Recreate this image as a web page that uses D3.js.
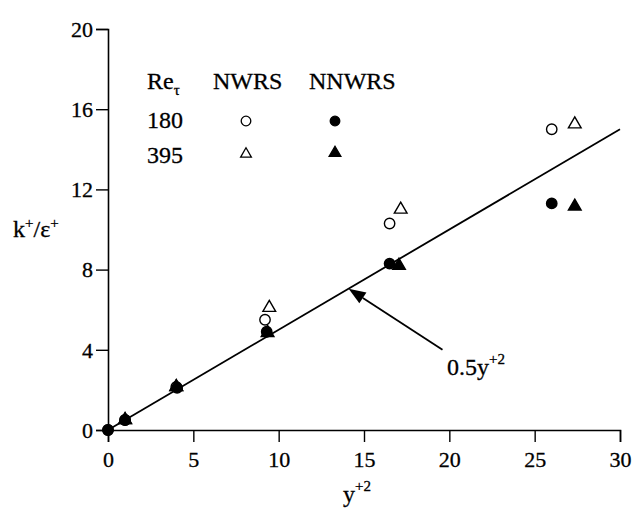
<!DOCTYPE html>
<html>
<head>
<meta charset="utf-8">
<script src="https://cdn.jsdelivr.net/npm/d3@7"></script>
<style>
  html, body { margin: 0; padding: 0; background: #fff; }
  svg { display: block; }
</style>
</head>
<body>
<svg id="chart" width="641" height="512"></svg>
<script>
// k+/eps+ versus y+^2 near the wall
const xMajorTicks = [0, 5, 10, 15, 20, 25, 30];
const yMajorTicks = [0, 4, 8, 12, 16, 20];

// [y+^2, k+/eps+] pairs for each model and Re_tau
const nwrs180  = [[0, 0], [1, 0.5], [4, 2.15], [9.2, 5.5], [16.5, 10.3], [26.0, 15.0]];
const nwrs395  = [[1, 0.5], [4, 2.15], [9.45, 6.1], [17.15, 11.0], [27.35, 15.25]];
const nnwrs180 = [[0, 0], [1, 0.5], [4.05, 2.1], [9.3, 4.9], [16.5, 8.3], [26.0, 11.3]];
const nnwrs395 = [[1, 0.5], [4.0, 2.15], [9.35, 4.85], [17.05, 8.2], [27.35, 11.15]];

// reference asymptote k+/eps+ = 0.5 y+^2
const asymptoteSlope = 0.5;
const asymptoteRange = [0, 30];

const FONT = '"Liberation Serif", "Times New Roman", Times, serif';

const svg = d3.select("#chart");

const x = d3.scaleLinear().domain([0, 30]).range([108, 620]);
const y = d3.scaleLinear().domain([0, 20]).range([430, 29]);

function styleText(sel, size) {
  return sel.style("font-family", FONT)
    .style("font-size", size + "px")
    .attr("fill", "#000")
    .attr("stroke", "#000")
    .attr("stroke-width", 0.3);
}

// axes: major ticks with labels, minor ticks every unit
const gx = svg.append("g").attr("transform", `translate(0,${y(0)})`);
gx.call(d3.axisBottom(x).tickValues(d3.range(0, 31, 1)).tickSize(7).tickFormat(""));
gx.call(d3.axisBottom(x).tickValues(xMajorTicks).tickSize(12).tickFormat(d3.format("d")));
gx.selectAll(".tick text").attr("y", 37).attr("dy", 0);

const gy = svg.append("g").attr("transform", `translate(${x(0)},0)`);
gy.call(d3.axisLeft(y).tickValues(d3.range(0, 21, 1)).tickSize(5).tickFormat(""));
gy.call(d3.axisLeft(y).tickValues(yMajorTicks).tickSize(12).tickFormat(d3.format("d")));
gy.selectAll(".tick text").attr("x", -15).attr("dy", "0.33em");

svg.selectAll(".domain").attr("stroke", "#000").attr("stroke-width", 1.6);
svg.selectAll(".tick line").attr("stroke", "#000").attr("stroke-width", 1.4);
styleText(svg.selectAll(".tick text"), 22);

// axis titles
const xt = styleText(svg.append("text"), 24)
  .attr("x", 357).attr("y", 502)
  .attr("text-anchor", "middle");
xt.append("tspan").text("y");
xt.append("tspan").attr("dy", -11).style("font-size", "15px").text("+2");

const yt = styleText(svg.append("text"), 24)
  .attr("x", 13).attr("y", 237);
yt.append("tspan").text("k");
yt.append("tspan").attr("dy", -9).style("font-size", "15px").text("+");
yt.append("tspan").attr("dy", 9).text("/ε");
yt.append("tspan").attr("dy", -9).style("font-size", "15px").text("+");

// asymptote line
svg.append("line")
  .attr("x1", x(asymptoteRange[0])).attr("y1", y(asymptoteSlope * asymptoteRange[0]))
  .attr("x2", x(asymptoteRange[1])).attr("y2", y(asymptoteSlope * asymptoteRange[1]))
  .attr("stroke", "#000").attr("stroke-width", 1.8);

// markers
const circleR = 5.2;
const tri = d3.symbol().type(d3.symbolTriangle).size(70);

function circles(data, filled) {
  svg.append("g").selectAll("circle").data(data).join("circle")
    .attr("cx", d => x(d[0])).attr("cy", d => y(d[1]))
    .attr("r", circleR)
    .attr("fill", filled ? "#000" : "#fff")
    .attr("stroke", "#000").attr("stroke-width", 1.4);
}
function triangles(data, filled) {
  svg.append("g").selectAll("path").data(data).join("path")
    .attr("transform", d => `translate(${x(d[0])},${y(d[1])})`)
    .attr("d", tri)
    .attr("fill", filled ? "#000" : "#fff")
    .attr("stroke", "#000").attr("stroke-width", 1.4);
}
triangles(nwrs395, false);
circles(nwrs180, false);
triangles(nnwrs395, true);
circles(nnwrs180, true);

// annotation with arrow pointing at the asymptote
const tipX = 14.1;
const tail = [19.6, 4.0];
const tip = [x(tipX), y(asymptoteSlope * tipX)];
const tl = [x(tail[0]), y(tail[1])];
const ang = Math.atan2(tip[1] - tl[1], tip[0] - tl[0]);
const headLen = 17, headW = 6.5;
const base = [tip[0] - headLen * Math.cos(ang), tip[1] - headLen * Math.sin(ang)];
svg.append("line")
  .attr("x1", tl[0]).attr("y1", tl[1])
  .attr("x2", base[0]).attr("y2", base[1])
  .attr("stroke", "#000").attr("stroke-width", 1.8);
svg.append("path")
  .attr("d", d3.line()([
    tip,
    [base[0] + headW * Math.sin(ang), base[1] - headW * Math.cos(ang)],
    [base[0] - headW * Math.sin(ang), base[1] + headW * Math.cos(ang)]
  ]) + "Z")
  .attr("fill", "#000");

const at = styleText(svg.append("text"), 24)
  .attr("x", 447).attr("y", 375);
at.append("tspan").text("0.5y");
at.append("tspan").attr("dy", -11).style("font-size", "15px").text("+2");

// legend
const leg = svg.append("g");
const reT = styleText(leg.append("text"), 24).attr("x", 147).attr("y", 89);
reT.append("tspan").text("Re");
reT.append("tspan").attr("dy", 6).style("font-size", "15px").text("τ");
styleText(leg.append("text"), 24).attr("x", 213).attr("y", 89).text("NWRS");
styleText(leg.append("text"), 24).attr("x", 309).attr("y", 89).text("NNWRS");
styleText(leg.append("text"), 24).attr("x", 147).attr("y", 128).text("180");
styleText(leg.append("text"), 24).attr("x", 147).attr("y", 163).text("395");

leg.append("circle").attr("cx", 246).attr("cy", 121).attr("r", 4.8)
  .attr("fill", "#fff").attr("stroke", "#000").attr("stroke-width", 1.3);
leg.append("circle").attr("cx", 335).attr("cy", 121).attr("r", 4.8)
  .attr("fill", "#000").attr("stroke", "#000").attr("stroke-width", 1.3);
leg.append("path").attr("transform", "translate(246,154)")
  .attr("d", d3.symbol().type(d3.symbolTriangle).size(50))
  .attr("fill", "#fff").attr("stroke", "#000").attr("stroke-width", 1.3);
leg.append("path").attr("transform", "translate(335,153)")
  .attr("d", d3.symbol().type(d3.symbolTriangle).size(60))
  .attr("fill", "#000").attr("stroke", "#000").attr("stroke-width", 1.3);
</script>
</body>
</html>
